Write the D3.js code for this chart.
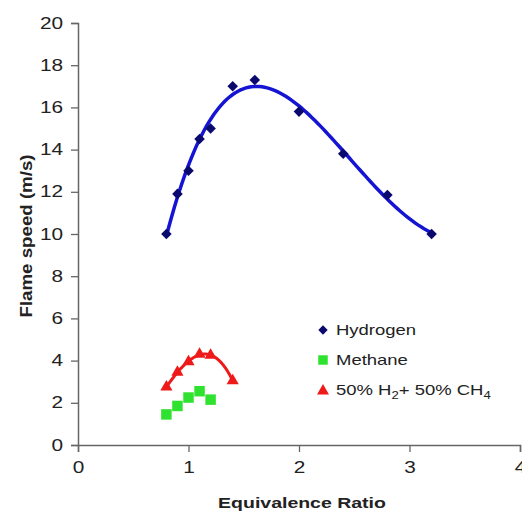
<!DOCTYPE html>
<html>
<head>
  <meta charset="utf-8">
  <title>Flame speed vs equivalence ratio</title>
  <script src="https://d3js.org/d3.v7.min.js"></script>
  <style>
    body { margin: 0; background: #fff; }
    text { font-family: "Liberation Sans", Arial, sans-serif; fill: #222; }
  </style>
</head>
<body>
  <div id="chart"></div>
  <script>
    // values
    var h2Ratio = [0.8, 0.9, 1.0, 1.1, 1.2, 1.4, 1.6, 2.0, 2.4, 2.8, 3.2];
    var h2Speed = [10.0, 11.9, 13.0, 14.5, 15.0, 17.0, 17.3, 15.8, 13.8, 11.85, 10.0];

    var ch4Ratio = [0.8, 0.9, 1.0, 1.1, 1.2];
    var ch4Speed = [1.45, 1.85, 2.25, 2.55, 2.15];

    var mixRatio = [0.8, 0.9, 1.0, 1.1, 1.2, 1.4];
    var mixSpeed = [2.75, 3.45, 3.95, 4.3, 4.25, 3.05];

    var xTicks = [0, 1, 2, 3, 4];
    var yTicks = [0, 2, 4, 6, 8, 10, 12, 14, 16, 18, 20];

    var width = 522, height = 511;
    var stretch = 1.3; // the picture's text is drawn wide

    var svg = d3.select("#chart").append("svg")
      .attr("width", width)
      .attr("height", height);

    var x = d3.scaleLinear().domain([0, 4]).range([78, 520]);
    var y = d3.scaleLinear().domain([0, 20]).range([445, 23]);

    // least squares polynomial, like a spreadsheet trendline
    function polyfit(xs, ys, order) {
      var n = order + 1, A = [], b = [];
      for (var i = 0; i < n; i++) {
        A.push([]);
        b.push(d3.sum(xs, function(v, k) { return Math.pow(v, i) * ys[k]; }));
        for (var j = 0; j < n; j++) {
          A[i].push(d3.sum(xs, function(v) { return Math.pow(v, i + j); }));
        }
      }
      for (var c = 0; c < n; c++) {
        var p = c;
        for (var r = c + 1; r < n; r++) if (Math.abs(A[r][c]) > Math.abs(A[p][c])) p = r;
        var t = A[c]; A[c] = A[p]; A[p] = t;
        var tb = b[c]; b[c] = b[p]; b[p] = tb;
        for (var r2 = c + 1; r2 < n; r2++) {
          var f = A[r2][c] / A[c][c];
          for (var k = c; k < n; k++) A[r2][k] -= f * A[c][k];
          b[r2] -= f * b[c];
        }
      }
      var coef = new Array(n);
      for (var i2 = n - 1; i2 >= 0; i2--) {
        var s = b[i2];
        for (var j2 = i2 + 1; j2 < n; j2++) s -= A[i2][j2] * coef[j2];
        coef[i2] = s / A[i2][i2];
      }
      return function(v) {
        return d3.sum(coef, function(cf, e) { return cf * Math.pow(v, e); });
      };
    }

    function trend(xs, ys, order) {
      var fn = polyfit(xs, ys, order);
      var lo = d3.min(xs), hi = d3.max(xs);
      return d3.range(0, 101).map(function(i) {
        var v = lo + (hi - lo) * i / 100;
        return [v, fn(v)];
      });
    }

    // axes
    var yAxis = d3.axisLeft(y).tickValues(yTicks).tickFormat(d3.format("d"))
      .tickSize(7).tickPadding(4.5);
    var gy = svg.append("g").attr("transform", "translate(" + x(0) + ",0)").call(yAxis);

    var xAxis = d3.axisBottom(x).tickValues(xTicks).tickFormat(d3.format("d"))
      .tickSize(7).tickPadding(10);
    var gx = svg.append("g").attr("transform", "translate(0," + y(0) + ")").call(xAxis);

    [gy, gx].forEach(function(g) {
      g.select(".domain").attr("stroke", "#666").attr("stroke-width", 1.5);
      g.selectAll(".tick line").attr("stroke", "#666").attr("stroke-width", 1.3);
      g.selectAll(".tick text")
        .attr("font-size", 16)
        .attr("fill", "#222")
        .attr("font-family", "Liberation Sans, Arial, sans-serif")
        .attr("transform", "scale(" + stretch + ",1)");
    });

    // fitted curves
    var line = d3.line()
      .x(function(d) { return x(d[0]); })
      .y(function(d) { return y(d[1]); });

    svg.append("path")
      .datum(trend(h2Ratio, h2Speed, 4))
      .attr("d", line)
      .attr("fill", "none")
      .attr("stroke", "#1414d2")
      .attr("stroke-width", 3.5);

    svg.append("path")
      .datum(trend(mixRatio, mixSpeed, 3))
      .attr("d", line)
      .attr("fill", "none")
      .attr("stroke", "#ee1a1a")
      .attr("stroke-width", 3);

    // markers
    var diamond = d3.symbol().type(d3.symbolSquare).size(56);
    var square = d3.symbol().type(d3.symbolSquare).size(110);
    var triangle = d3.symbol().type(d3.symbolTriangle).size(64);

    svg.append("g").selectAll("path")
      .data(d3.zip(ch4Ratio, ch4Speed))
      .join("path")
      .attr("d", square)
      .attr("fill", "#2fe22f")
      .attr("transform", function(d) { return "translate(" + x(d[0]) + "," + y(d[1]) + ")"; });

    svg.append("g").selectAll("path")
      .data(d3.zip(mixRatio, mixSpeed))
      .join("path")
      .attr("d", triangle)
      .attr("fill", "#ee1a1a")
      .attr("transform", function(d) { return "translate(" + x(d[0]) + "," + y(d[1]) + ")"; });

    svg.append("g").selectAll("path")
      .data(d3.zip(h2Ratio, h2Speed))
      .join("path")
      .attr("d", diamond)
      .attr("fill", "#0a0a6e")
      .attr("transform", function(d) { return "translate(" + x(d[0]) + "," + y(d[1]) + ") rotate(45)"; });

    // axis titles
    svg.append("text")
      .attr("transform", "translate(302,508) scale(" + stretch + ",1)")
      .attr("text-anchor", "middle")
      .attr("font-size", 15)
      .attr("font-weight", "bold")
      .text("Equivalence Ratio");

    svg.append("text")
      .attr("transform", "translate(32,236) rotate(-90) scale(1.1,1)")
      .attr("text-anchor", "middle")
      .attr("font-size", 17)
      .attr("font-weight", "bold")
      .text("Flame speed (m/s)");

    // legend
    var legend = svg.append("g").attr("transform", "translate(323,330)");
    var rowGap = 30;

    legend.append("path").attr("d", d3.symbol().type(d3.symbolSquare).size(44))
      .attr("fill", "#0a0a6e").attr("transform", "translate(0,0) rotate(45)");
    legend.append("path").attr("d", d3.symbol().type(d3.symbolSquare).size(90))
      .attr("fill", "#2fe22f").attr("transform", "translate(0," + rowGap + ")");
    legend.append("path").attr("d", d3.symbol().type(d3.symbolTriangle).size(62))
      .attr("fill", "#ee1a1a").attr("transform", "translate(0," + (rowGap * 2 + 1) + ")");

    function legendText(row) {
      return legend.append("text")
        .attr("transform", "translate(13," + (row * rowGap + 5) + ") scale(1.32,1)")
        .attr("font-size", 14);
    }
    legendText(0).text("Hydrogen");
    legendText(1).text("Methane");
    var mix = legendText(2);
    mix.append("tspan").text("50% H");
    mix.append("tspan").attr("font-size", 10).attr("dy", 4).text("2");
    mix.append("tspan").attr("dy", -4).text("+ 50% CH");
    mix.append("tspan").attr("font-size", 10).attr("dy", 4).text("4");
  </script>
</body>
</html>
